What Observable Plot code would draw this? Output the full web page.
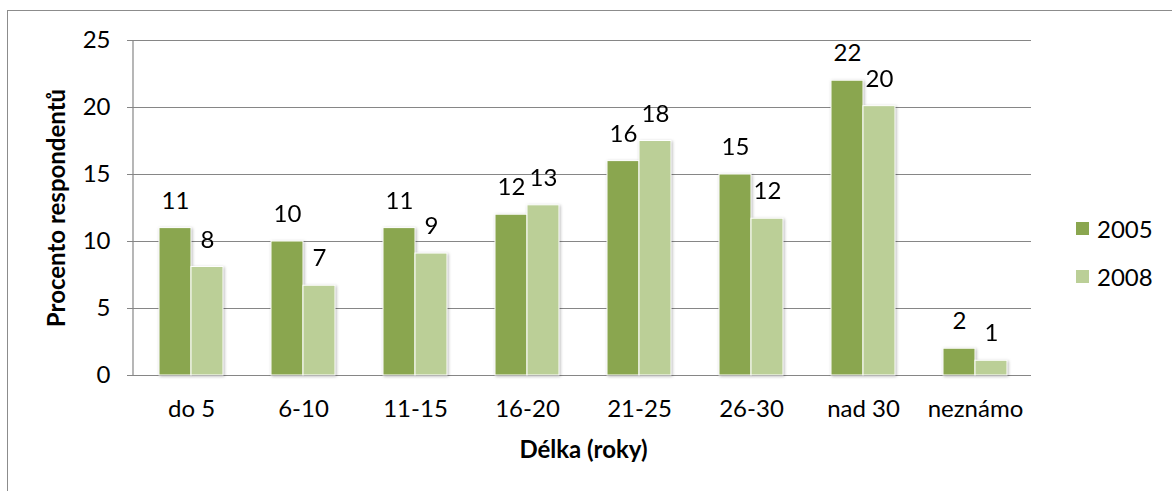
<!DOCTYPE html>
<html>
<head>
<meta charset="utf-8">
<script src="https://cdn.jsdelivr.net/npm/d3@7"></script>
<script src="https://cdn.jsdelivr.net/npm/@observablehq/plot@0.6"></script>
<style>
  html, body { margin: 0; padding: 0; background: #fff; }
  #wrap { position: relative; width: 1172px; height: 491px; overflow: hidden; font-family: Lato, "Open Sans", sans-serif; }
  #frame { position: absolute; left: 7px; top: 10px; right: -10px; bottom: -10px;
           border-left: 1px solid #8c8c8c; border-top: 1px solid #8c8c8c; }
  #chart { position: absolute; left: 0; top: 0; }
  #legend { position: absolute; left: 1076px; top: 213px; font-size: 24px; color: #000; }
  #legend .item { display: flex; align-items: center; height: 30px; margin-bottom: 18px; }
  #legend .sw { width: 13px; height: 13px; margin-right: 8px; }
</style>
</head>
<body>
<div id="wrap">
  <div id="frame"></div>
  <div id="chart"></div>
  <div id="legend"></div>
</div>
<script>
// Length of membership groups (years) and share of respondents in each survey
const categories = ["do 5", "6-10", "11-15", "16-20", "21-25", "26-30", "nad 30", "neznámo"];
const years = ["2005", "2008"];
const values2005 = [11, 10, 11, 12, 16, 15, 22, 2];
const values2008 = [8.1, 6.7, 9.1, 12.7, 17.5, 11.7, 20.1, 1.1];
const yTicks = [0, 5, 10, 15, 20, 25];
const colors = ["#8aa64f", "#bbcf97"];

const data = categories.flatMap((c, i) => [
  {category: c, year: years[0], value: values2005[i]},
  {category: c, year: years[1], value: values2008[i]}
]);

const marginLeft = 133, marginTop = 40, marginBottom = 116, marginRight = 139;
const gridColor = "#868686";

const chart = Plot.plot({
  width: 1172,
  height: 491,
  marginLeft, marginRight, marginTop, marginBottom,
  style: {fontFamily: "Lato, 'Open Sans', sans-serif", fontSize: "24px", color: "#000", background: "transparent", overflow: "visible"},
  fx: {domain: categories, padding: 0},
  x: {domain: years, paddingInner: 0, paddingOuter: 0.7045, axis: null},
  y: {domain: [0, 25]},
  color: {domain: years, range: colors},
  marks: [
    Plot.gridY(yTicks, {stroke: gridColor, strokeOpacity: 1, strokeWidth: 1.2}),
    Plot.axisY(yTicks, {
      tickSize: 8, tickPadding: 17, stroke: gridColor, strokeOpacity: 1,
      label: "Procento respondentů", labelAnchor: "center", labelArrow: "none", labelOffset: 88
    }),
    Plot.axisFx({
      anchor: "bottom", tickSize: 0, tickPadding: 24,
      label: "Délka (roky)", labelAnchor: "center", labelArrow: "none", labelOffset: 82
    }),
    Plot.barY(data, {fx: "category", x: "year", y: "value", fill: "year", stroke: "white", strokeWidth: 1}),
    Plot.text(data, {fx: "category", x: "year", y: "value", text: d => String(Math.round(d.value)), dy: -27, fill: "#000"})
  ]
});

document.getElementById("chart").appendChild(chart);

const svg = d3.select(chart);
// bold axis titles
svg.selectAll("g[aria-label$='axis label'] text").attr("font-weight", "bold");
// soft shadow behind the bars
svg.selectAll("g[aria-label='bar']").style("filter", "drop-shadow(1.5px 1px 1.5px rgba(0,0,0,0.28))");
// vertical axis line along the left edge of the plot area
const yr = chart.scale("y").range;
svg.append("line")
  .attr("x1", marginLeft).attr("x2", marginLeft)
  .attr("y1", yr[0]).attr("y2", yr[1])
  .attr("stroke", gridColor).attr("stroke-width", 1.2);

// legend
const legend = d3.select("#legend");
years.forEach((y, i) => {
  const item = legend.append("div").attr("class", "item");
  item.append("div").attr("class", "sw").style("background", colors[i]);
  item.append("span").text(y);
});
</script>
</body>
</html>
